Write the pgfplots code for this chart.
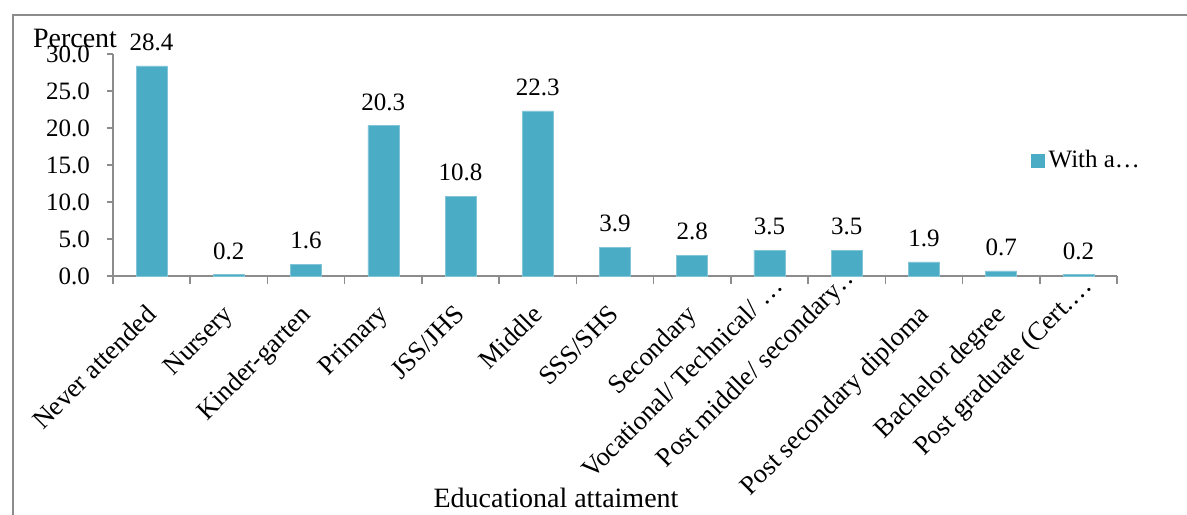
\documentclass[border=0pt]{standalone}
\usepackage{pgfplots}
\pgfplotsset{compat=1.18}
\usepackage{fontspec}
\setmainfont{Liberation Serif}
\definecolor{barc}{HTML}{4BACC6}
\definecolor{framec}{HTML}{8C8C8C}
\newcommand{\adj}[3]{\raisebox{#2}[\height][\depth]{#1}\hspace*{#3}}
\begin{document}
\begin{tikzpicture}
\useasboundingbox (-56.5pt,-119pt) rectangle (537pt,138pt);
\draw[framec, line width=1pt] (-50pt,-125pt) -- (-50pt,130.5pt) -- (545pt,130.5pt);
\begin{axis}[
  at={(0pt,0pt)}, anchor=south west,
  scale only axis, width=502pt, height=111pt,
  ymin=0, ymax=30, ytick={0,5,...,30},
  xmin=-0.5, xmax=12.5,
  axis x line=bottom, axis y line=left,
  axis line style={framec, line width=0.8pt, -},
  x axis line style={-}, y axis line style={-},
  tick align=outside,
  major tick length=3pt,
  tick style={framec, line width=0.8pt},
  xtick={0,...,12},
  major x tick style={draw=none},
  minor xtick={-0.5,0.5,...,12.5},
  minor tick length=4pt,
  minor x tick style={framec, line width=0.8pt},
  xticklabels={Never attended, Nursery, Kinder-garten, Primary, JSS/JHS, Middle, SSS/SHS, Secondary, \adj{Vocational/ Technical/ …}{7pt}{-13pt}, \adj{Post middle/ secondary…}{12pt}{-18pt}, Post secondary diploma, Bachelor degree, \adj{Post graduate (Cert.…}{7pt}{-13pt}},
  xticklabel style={xshift=-3.5pt, yshift=-9pt, rotate=45, anchor=north east, inner sep=1pt, font=\fontsize{13.3}{15}\selectfont},
  yticklabel style={xshift=-5pt, font=\fontsize{12.5}{14}\selectfont},
  /pgf/number format/assume math mode=true,
  yticklabel={\pgfmathprintnumber[fixed, fixed zerofill, precision=1]{\tick}},
  ybar, bar width=15.5pt,
  nodes near coords={\pgfmathprintnumber[fixed, fixed zerofill, precision=1]{\pgfplotspointmeta}},
  nodes near coords style={font=\fontsize{12.5}{14}\selectfont, yshift=4pt},
  legend style={draw=none, at={(0.914,0.52)}, anchor=west, font=\fontsize{12.5}{14}\selectfont, inner sep=0pt},
  legend image code/.code={\fill[barc] (0pt,-3.25pt) rectangle (6.5pt,3.25pt);},
  clip=false,
]
\addplot[fill=barc, draw=barc!70!white, line width=0.3pt] coordinates {
 (0,28.4) (1,0.2) (2,1.6) (3,20.3) (4,10.8) (5,22.3) (6,3.9)
 (7,2.8) (8,3.5) (9,3.5) (10,1.9) (11,0.7) (12,0.2)};
\addlegendentry{With a…}
\end{axis}
\node[font=\fontsize{14}{16}\selectfont, inner sep=0pt, anchor=base] at (-19pt,114pt) {Percent};
\node[font=\fontsize{14}{16}\selectfont, inner sep=0pt] at (221.5pt,-111pt) {Educational attaiment};
\end{tikzpicture}
\end{document}
